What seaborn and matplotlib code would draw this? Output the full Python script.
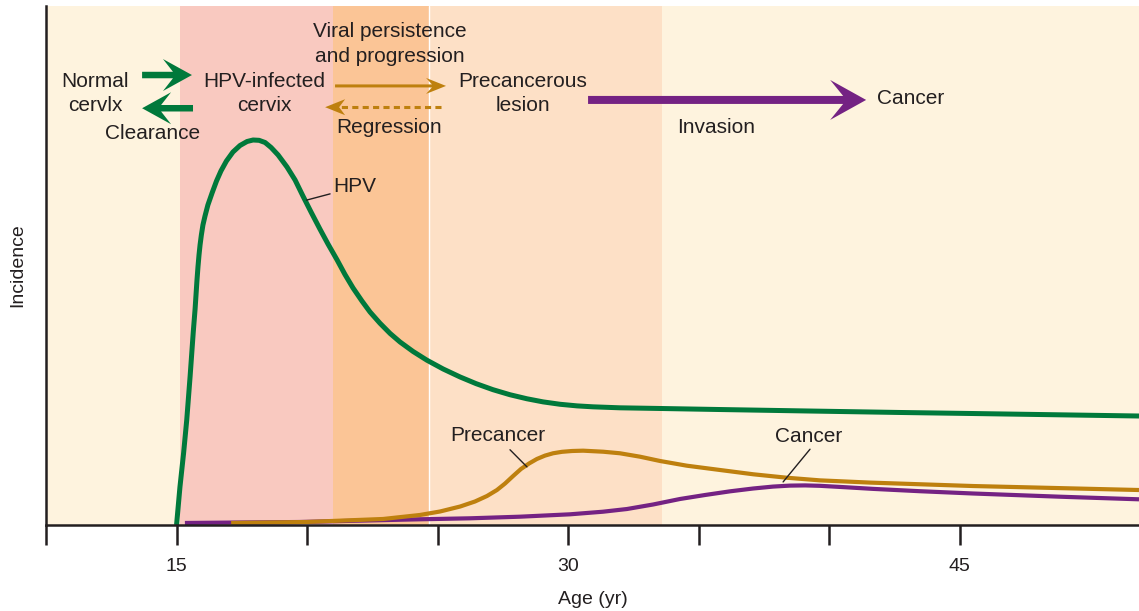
import numpy as np
import pandas as pd
import matplotlib
matplotlib.use("Agg")
import matplotlib.pyplot as plt
from matplotlib.patches import Polygon
import seaborn as sns

# ---- data: age (years) vs. relative incidence ----
hpv_age = [15.0, 15.13, 15.27, 15.39, 15.52, 15.64, 15.71, 15.78, 15.82, 15.86,
           15.90, 15.95, 16.01, 16.09, 16.20, 16.36, 16.53, 16.70, 16.91, 17.16,
           17.43, 17.70, 17.93, 18.16, 18.39, 18.62, 18.89, 19.23, 19.54, 19.84,
           20.15, 20.49, 20.80, 21.15, 21.45, 21.76, 22.10, 22.41, 22.79, 23.18,
           23.56, 24.06, 24.59, 25.21, 25.86, 26.47, 27.12, 27.77, 28.42, 29.04,
           29.69, 30.34, 30.95, 31.98, 33.52, 35.81, 39.15, 42.71, 45.50, 51.86]
hpv_inc = [0.0, 7.32, 13.87, 20.23, 28.71, 37.19, 41.62, 47.01, 49.71, 52.02,
           53.95, 55.88, 57.80, 59.54, 61.66, 63.97, 66.28, 68.21, 70.13, 71.87,
           73.12, 73.89, 74.18, 74.12, 73.70, 72.74, 71.29, 68.98, 66.47, 63.39,
           60.31, 57.03, 54.14, 51.06, 48.27, 45.66, 43.16, 41.04, 38.88, 36.90,
           35.26, 33.43, 31.75, 30.06, 28.52, 27.24, 26.07, 25.10, 24.32, 23.72,
           23.26, 22.95, 22.77, 22.58, 22.45, 22.25, 21.97, 21.68, 21.48, 21.00]

precancer_age = [17.09, 19.96, 22.91, 24.32, 25.09, 25.86, 26.43, 26.89, 27.27,
                 27.58, 27.89, 28.19, 28.50, 28.80, 29.11, 29.42, 29.76, 30.15,
                 30.57, 31.34, 31.98, 32.75, 33.52, 34.54, 35.81, 37.09, 38.37,
                 39.64, 41.56, 45.50, 51.86]
precancer_inc = [0.39, 0.58, 1.16, 1.93, 2.60, 3.56, 4.53, 5.59, 6.74,
                 7.99, 9.44, 10.79, 11.85, 12.72, 13.37, 13.82, 14.10, 14.26,
                 14.32, 14.12, 13.82, 13.16, 12.33, 11.43, 10.60, 9.77, 9.11,
                 8.60, 8.17, 7.51, 6.74]

cancer_age = [15.32, 19.73, 24.32, 26.24, 28.15, 30.07, 31.33, 32.25, 33.25,
              34.28, 35.24, 36.20, 37.08, 37.84, 38.49, 39.07, 39.64, 40.60,
              41.67, 43.47, 45.50, 48.84, 51.86]
cancer_inc = [0.39, 0.58, 1.10, 1.29, 1.60, 2.06, 2.56, 3.08, 3.95,
              5.01, 5.78, 6.49, 7.03, 7.40, 7.59, 7.63, 7.55, 7.28,
              6.96, 6.51, 6.07, 5.45, 4.95]

# stage bands along the age axis
band_edges = [10.0, 15.15, 21.0, 24.65, 33.6, 52.0]
band_colors = ["#FEF3DE", "#F9C9C0", "#FBC596", "#FDE0C6", "#FEF3DE"]

tick_ages = [10, 15, 20, 25, 30, 35, 40, 45]
tick_labels = ["", "15", "", "", "30", "", "", "45"]

GREEN = "#00793B"
GOLD = "#BE800E"
PURPLE = "#742283"
INK = "#231F20"

sns.set_style("white")
plt.rcParams["font.family"] = ["Liberation Sans", "DejaVu Sans"]

fig = plt.figure(figsize=(11.39, 6.11), dpi=100)
ax = fig.add_axes([46 / 1139, 86 / 611, 1 - 46 / 1139, 519 / 611])
ax.set_xlim(10, 51.86)
ax.set_ylim(0, 100)

for i, c in enumerate(band_colors):
    ax.axvspan(band_edges[i], band_edges[i + 1], color=c, lw=0, zorder=0)
ax.axvline(band_edges[3], color="white", lw=1.0, zorder=0.5)

curves = pd.concat([
    pd.DataFrame({"age": cancer_age, "inc": cancer_inc, "kind": "Cancer"}),
    pd.DataFrame({"age": precancer_age, "inc": precancer_inc, "kind": "Precancer"}),
    pd.DataFrame({"age": hpv_age, "inc": hpv_inc, "kind": "HPV"}),
])
widths = {"Cancer": 3.0, "Precancer": 3.0, "HPV": 3.6}
colors = {"Cancer": PURPLE, "Precancer": GOLD, "HPV": GREEN}
for kind in ["Cancer", "Precancer", "HPV"]:
    sub = curves[curves["kind"] == kind]
    sns.lineplot(data=sub, x="age", y="inc", color=colors[kind], lw=widths[kind],
                 ax=ax, zorder=3, clip_on=False, solid_joinstyle="round",
                 solid_capstyle="butt")

# axes styling
for s in ["top", "right"]:
    ax.spines[s].set_visible(False)
for s in ["left", "bottom"]:
    ax.spines[s].set_color(INK)
    ax.spines[s].set_linewidth(1.8)
    ax.spines[s].set_zorder(4)
ax.set_xticks(tick_ages)
ax.set_xticklabels(tick_labels)
ax.set_yticks([])
ax.tick_params(axis="x", direction="out", length=14.5, width=1.8, color=INK,
               labelsize=14, labelcolor=INK, pad=9, bottom=True)
ax.set_xlabel("Age (yr)", fontsize=14, color=INK, labelpad=12)
ax.set_ylabel("Incidence", fontsize=14, color=INK, labelpad=14)


def swept_arrow(start, end, shaft_w, head_len, head_hw, notch, color, dashed=False,
                dash_lw=2.2):
    """Arrow with a swept-back head; sizes are in pixels, ends in data units."""
    p0 = ax.transData.transform(start)
    p1 = ax.transData.transform(end)
    d = p1 - p0
    u = d / np.hypot(*d)
    n = np.array([-u[1], u[0]])
    tip = p1
    cu = tip - u * head_len + n * head_hw
    cd = tip - u * head_len - n * head_hw
    inner = tip - u * (head_len - notch)
    to_fig = fig.transFigure.inverted()
    if dashed:
        head = [tip, cu, inner, cd]
        shaft_end = ax.transData.inverted().transform(inner + u * 1.0)
        ax.plot([start[0], shaft_end[0]], [start[1], shaft_end[1]], color=color,
                lw=dash_lw, dashes=(2.0, 1.4), solid_capstyle="butt", zorder=5)
    else:
        head = [tip, cu, inner + n * shaft_w / 2, p0 + n * shaft_w / 2,
                p0 - n * shaft_w / 2, inner - n * shaft_w / 2, cd]
    fig.add_artist(Polygon(to_fig.transform(np.array(head)), closed=True,
                           facecolor=color, edgecolor="none",
                           transform=fig.transFigure, zorder=6))


# process arrows
swept_arrow((13.68, 86.7), (15.59, 86.7), 6.5, 29, 16, 10, GREEN)
swept_arrow((15.63, 80.3), (13.68, 80.3), 6.5, 29, 16, 10, GREEN)
swept_arrow((21.07, 84.6), (25.32, 84.6), 3.0, 20, 8, 6, GOLD)
swept_arrow((25.13, 80.5), (20.69, 80.5), 3.0, 20, 8, 6, GOLD, dashed=True)
swept_arrow((30.76, 81.9), (41.41, 81.9), 8.0, 36, 20, 13, PURPLE)

txt = dict(fontsize=15, color=INK, ha="center", va="center", linespacing=1.35, zorder=7)
ax.text(11.88, 83.2, "Normal\ncervlx", **txt)
ax.text(14.10, 75.5, "Clearance", **txt)
ax.text(18.35, 83.2, "HPV-infected\ncervix", **txt)
ax.text(23.17, 92.7, "Viral persistence\nand progression", **txt)
ax.text(23.14, 76.5, "Regression", **txt)
ax.text(28.27, 83.2, "Precancerous\nlesion", **txt)
ax.text(43.13, 82.1, "Cancer", **txt)
ax.text(35.66, 76.5, "Invasion", **txt)

# curve labels with leader lines
ax.text(21.83, 65.3, "HPV", **txt)
ax.plot([19.98, 20.88], [62.6, 63.8], color=INK, lw=1.0, zorder=7)
ax.text(27.29, 17.3, "Precancer", **txt)
ax.plot([27.77, 28.42], [14.5, 11.2], color=INK, lw=1.0, zorder=7)
ax.text(39.22, 17.0, "Cancer", **txt)
ax.plot([39.26, 38.23], [14.6, 8.3], color=INK, lw=1.0, zorder=7)

fig.savefig("out.png", dpi=100)
